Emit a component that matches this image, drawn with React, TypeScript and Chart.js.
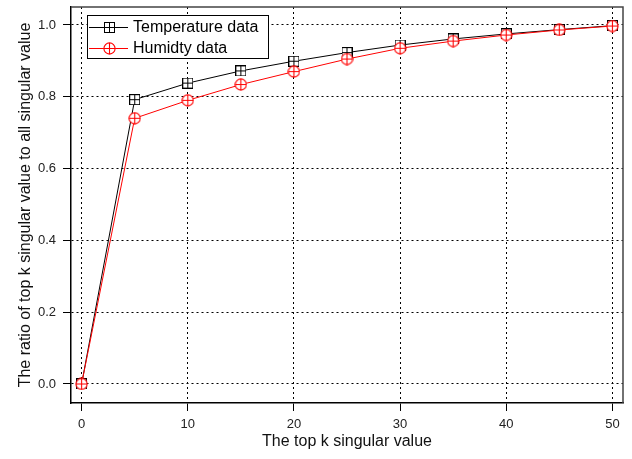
import React, { useEffect, useRef } from 'react';
import { Chart, registerables } from 'chart.js';

Chart.register(...registerables);

// k values (top-k singular values kept)
const kValues = [0, 5, 10, 15, 20, 25, 30, 35, 40, 45, 50];
// cumulative ratio of the top k singular values
const temperatureRatio = [0, 0.792, 0.838, 0.872, 0.899, 0.923, 0.944, 0.961, 0.975, 0.987, 0.998];
const humidityRatio = [0, 0.740, 0.790, 0.834, 0.870, 0.905, 0.935, 0.955, 0.972, 0.986, 0.997];

const seriesNames = ['Temperature data', 'Humidty data'];
const xTickValues = [0, 10, 20, 30, 40, 50];
const yTickValues = [0, 0.2, 0.4, 0.6, 0.8, 1.0];

const FONT = "'Liberation Sans', Arial, Helvetica, sans-serif";

// hollow square with a plus inside
function squarePlus(color: string): HTMLCanvasElement {
  const c = document.createElement('canvas');
  c.width = 11;
  c.height = 11;
  const g = c.getContext('2d')!;
  g.fillStyle = '#fff';
  g.fillRect(0.5, 0.5, 10, 10);
  g.strokeStyle = color;
  g.lineWidth = 1;
  g.strokeRect(0.5, 0.5, 10, 10);
  g.beginPath();
  g.moveTo(5.5, 0.5);
  g.lineTo(5.5, 10.5);
  g.moveTo(0.5, 5.5);
  g.lineTo(10.5, 5.5);
  g.stroke();
  return c;
}

// hollow circle with a plus inside
function circlePlus(color: string): HTMLCanvasElement {
  const c = document.createElement('canvas');
  c.width = 13;
  c.height = 13;
  const g = c.getContext('2d')!;
  g.fillStyle = '#fff';
  g.beginPath();
  g.arc(6.5, 6.5, 5.6, 0, Math.PI * 2);
  g.fill();
  g.strokeStyle = color;
  g.lineWidth = 1.1;
  g.stroke();
  g.beginPath();
  g.moveTo(6.5, 1);
  g.lineTo(6.5, 12);
  g.moveTo(1, 6.5);
  g.lineTo(12, 6.5);
  g.stroke();
  return c;
}

// legend box inside the plot area + frame on the top and right sides
const framePlugin = {
  id: 'frameAndLegend',
  afterDraw(chart: any) {
    const { ctx, chartArea } = chart;
    const { left, right, top, bottom } = chartArea;
    ctx.save();
    // top/right frame
    ctx.strokeStyle = '#444';
    ctx.lineWidth = 1.5;
    ctx.beginPath();
    ctx.moveTo(left, top);
    ctx.lineTo(right, top);
    ctx.lineTo(right, bottom);
    ctx.stroke();

    // legend
    const bx = left + 16;
    const by = top + 8;
    const bw = 181;
    const bh = 43;
    ctx.fillStyle = '#fff';
    ctx.fillRect(bx, by, bw, bh);
    ctx.strokeStyle = '#000';
    ctx.lineWidth = 1;
    ctx.strokeRect(bx + 0.5, by + 0.5, bw, bh);

    ctx.font = `16px ${FONT}`;
    ctx.textBaseline = 'middle';
    ctx.textAlign = 'left';
    chart.data.datasets.forEach((ds: any, i: number) => {
      const y = by + 12 + i * 21;
      ctx.strokeStyle = ds.borderColor;
      ctx.lineWidth = 1;
      ctx.beginPath();
      ctx.moveTo(bx + 2, y + 0.5);
      ctx.lineTo(bx + 41, y + 0.5);
      ctx.stroke();
      const img = ds.pointStyle as HTMLCanvasElement;
      ctx.drawImage(img, Math.round(bx + 22 - img.width / 2), Math.round(y - img.height / 2 + 0.5));
      ctx.fillStyle = '#000';
      ctx.fillText(ds.label, bx + 46, y + 1);
    });
    ctx.restore();
  },
};

export default function App() {
  const ref = useRef<HTMLCanvasElement | null>(null);

  useEffect(() => {
    document.body.style.margin = '0';
    const canvas = ref.current!;
    const tickFont = { family: FONT, size: 13 };
    const titleFont = { family: FONT, size: 16 };

    const chart = new Chart(canvas, {
      type: 'line',
      data: {
        datasets: [
          {
            label: seriesNames[0],
            data: kValues.map((k, i) => ({ x: k, y: temperatureRatio[i] })),
            borderColor: '#000000',
            backgroundColor: '#000000',
            borderWidth: 1,
            pointStyle: squarePlus('#000000'),
            pointRadius: 5,
            tension: 0,
            order: 1,
          },
          {
            label: seriesNames[1],
            data: kValues.map((k, i) => ({ x: k, y: humidityRatio[i] })),
            borderColor: '#ff0000',
            backgroundColor: '#ff0000',
            borderWidth: 1,
            pointStyle: circlePlus('#ff0000'),
            pointRadius: 6,
            tension: 0,
            order: 0,
          },
        ],
      },
      options: {
        responsive: false,
        animation: false,
        events: [],
        layout: { padding: { top: 7, right: 9, left: 0, bottom: 0 } },
        plugins: {
          legend: { display: false },
          title: { display: false },
          tooltip: { enabled: false },
        },
        scales: {
          x: {
            type: 'linear',
            min: -1,
            max: 51,
            afterBuildTicks: (scale: any) => {
              scale.ticks = xTickValues.map((v) => ({ value: v }));
            },
            afterFit: (scale: any) => {
              scale.height = 56;
              scale.paddingLeft = 0;
              scale.paddingRight = 0;
            },
            grid: {
              color: '#000',
              lineWidth: 1,
              tickLength: 8,
              tickColor: '#000',
              tickWidth: 1,
            },
            border: { color: '#000', width: 1.5, dash: [2, 3] },
            ticks: { font: tickFont, color: '#222', padding: 6, maxRotation: 0 },
            title: {
              display: true,
              text: 'The top k singular value',
              font: titleFont,
              color: '#111',
              padding: { top: 0, bottom: 8 },
            },
          },
          y: {
            type: 'linear',
            min: -0.053,
            max: 1.05,
            afterBuildTicks: (scale: any) => {
              scale.ticks = yTickValues.map((v) => ({ value: v }));
            },
            afterFit: (scale: any) => {
              scale.width = 71;
              scale.paddingTop = 0;
              scale.paddingBottom = 0;
            },
            grid: {
              color: '#000',
              lineWidth: 1,
              tickLength: 8,
              tickColor: '#000',
              tickWidth: 1,
            },
            border: { color: '#000', width: 1.5, dash: [2, 3] },
            ticks: {
              font: tickFont,
              color: '#222',
              padding: 7,
              callback: (v: any) => Number(v).toFixed(1),
            },
            title: {
              display: true,
              text: 'The ratio of top k singular value to all singular value',
              font: titleFont,
              color: '#111',
              padding: { top: 16, bottom: 0 },
            },
          },
        },
      },
      plugins: [framePlugin],
    } as any);

    return () => chart.destroy();
  }, []);

  return (
    <div style={{ position: 'fixed', left: 0, top: 0, width: 632, height: 459, background: '#fff' }}>
      <canvas ref={ref} width={632} height={459} style={{ display: 'block' }} />
    </div>
  );
}
